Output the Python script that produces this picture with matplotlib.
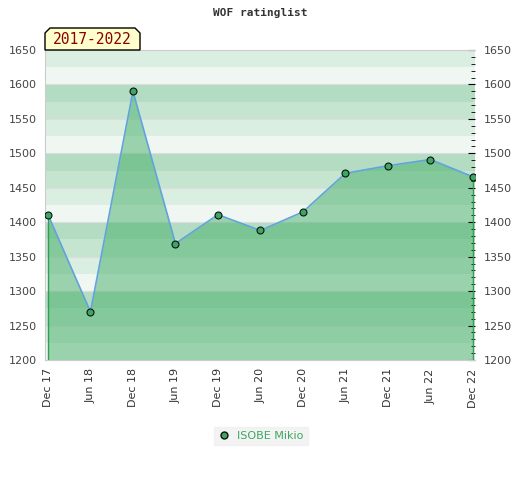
import matplotlib
matplotlib.use("Agg")
import matplotlib.pyplot as plt
from matplotlib.ticker import MultipleLocator
from matplotlib.patches import Polygon

periods = ["Dec 17", "Jun 18", "Dec 18", "Jun 19", "Dec 19", "Jun 20",
           "Dec 20", "Jun 21", "Dec 21", "Jun 22", "Dec 22"]
ratings = [1411, 1270, 1590, 1369, 1411, 1388, 1415, 1471, 1482, 1491, 1466]
player = "ISOBE Mikio"
title = "WOF ratinglist"
range_label = "2017-2022"
y_min, y_max = 1200, 1650

band_colors = ["#f0f7f2", "#dbeee2", "#c6e5d1", "#b3dcc3"]

fig = plt.figure(figsize=(5.2, 4.8), dpi=100)
ax = fig.add_axes([45/520, 1-360/480, 430/520, 310/480])

x = list(range(len(periods)))
ax.set_xlim(-0.07, len(periods) - 1 + 0.05)
ax.set_ylim(y_min, y_max)

for v in range(y_min, y_max, 25):
    ax.axhspan(v, v + 25, color=band_colors[(v % 100) // 25], lw=0, zorder=0)
for v in range(y_min, y_max + 1, 50):
    ax.axhline(v, color="#dddddd", lw=0.8, zorder=0.5)

ax.fill_between(x, ratings, y_min, color="#44af68", alpha=0.5, lw=0, zorder=1)
ax.vlines([x[0], x[-1]], y_min, [ratings[0], ratings[-1]], color="#2e9e50", lw=1, zorder=2)
ax.plot(x, ratings, color="#62a3dc", lw=1.2, zorder=3)
ax.plot(x, ratings, ls="none", marker="o", ms=5, mfc="#3aa860", mec="#111111", mew=0.8, zorder=4)

ax.set_xticks(x)
ax.set_xticklabels(periods, rotation=90, fontsize=8, color="#333333")
ax.tick_params(axis="x", length=0, pad=6)

ax.yaxis.set_major_locator(MultipleLocator(50))
ax.yaxis.set_minor_locator(MultipleLocator(10))
ax.tick_params(axis="y", which="major", left=False, right=True, labelleft=True, labelright=True,
               direction="in", length=5, labelsize=8, labelcolor="#111111", pad=6)
ax.tick_params(axis="y", which="minor", left=False, right=True, direction="in", length=3)
for lab in ax.get_yticklabels():
    lab.set_color("#444444")

for s in ["left", "bottom", "top"]:
    ax.spines[s].set_color("#cccccc")
ax.spines["right"].set_visible(False)

fig.text(260/520, 1-13/480, title, ha="center", va="center", fontsize=8,
         family="DejaVu Sans Mono", weight="bold", color="#333333")

# range label box with chamfered corners
x0, x1, y0, y1, c = 45/520, 140/520, 1-50/480, 1-28/480, 5/520
cy = 5/480
poly = Polygon([(x0, y0), (x0, y1 - cy), (x0 + c, y1), (x1 - c, y1), (x1, y1 - cy), (x1, y0)],
               closed=True, transform=fig.transFigure, facecolor="#ffffcc",
               edgecolor="#000000", lw=1)
fig.patches.append(poly)
fig.text((x0 + x1) / 2, (y0 + y1) / 2 - 1/480, range_label, ha="center", va="center",
         fontsize=10.5, family="DejaVu Sans Mono", color="#8b0000")

leg = ax.legend([plt.Line2D([], [], ls="none", marker="o", ms=5, mfc="#3aa860", mec="#111111")],
                [player], loc="center", bbox_to_anchor=(261/520, 1-436/480),
                bbox_transform=fig.transFigure, frameon=True, fontsize=8,
                handlelength=1, handletextpad=0.6, borderpad=0.4, fancybox=False)
leg.get_frame().set_facecolor("#f0f0f0")
leg.get_frame().set_edgecolor("#f0f0f0")
for t in leg.get_texts():
    t.set_color("#3aa860")

fig.savefig("out.png", dpi=100)
